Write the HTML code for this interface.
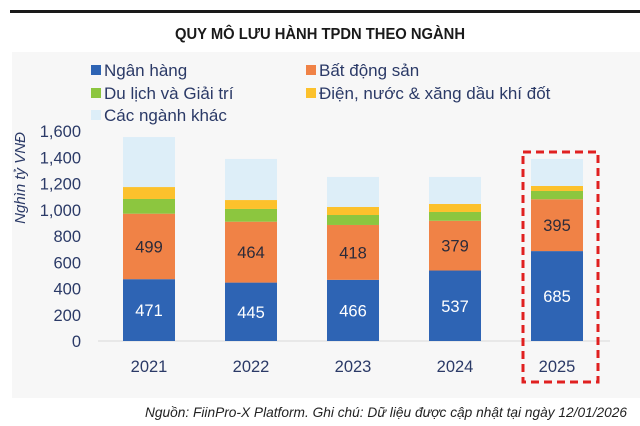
<!DOCTYPE html>
<html><head><meta charset="utf-8"><style>
body{margin:0;width:640px;height:426px;background:#fff;overflow:hidden;font-family:"Liberation Sans",sans-serif}
svg{display:block}
</style></head><body>
<svg id="chart" width="640" height="426">
<rect x="10" y="10" width="630" height="3" fill="#1a1a1a"/>
<text x="320" y="39" text-anchor="middle" font-size="16" font-weight="bold" fill="#1a1a1a" textLength="290" lengthAdjust="spacingAndGlyphs">QUY MÔ LƯU HÀNH TPDN THEO NGÀNH</text>
<rect x="12" y="52" width="628" height="346" fill="#f7f7f7"/>
<g id="legend"></g>
<text transform="translate(25,178) rotate(-90)" text-anchor="middle" font-size="15" font-style="italic" fill="#2b3a67">Nghìn tỷ VNĐ</text>
<g id="axis"></g><g id="bars"></g>
<rect x="523" y="152" width="75" height="230" fill="none" stroke="#e02020" stroke-width="3" stroke-dasharray="8,5"/>
<text x="627" y="417" text-anchor="end" font-size="14" font-style="italic" fill="#222" textLength="482" lengthAdjust="spacingAndGlyphs">Nguồn: FiinPro-X Platform. Ghi chú: Dữ liệu được cập nhật tại ngày 12/01/2026</text>
</svg>
<script>
const years=["2021","2022","2023","2024","2025"];
const bank=[471,445,466,537,685];
const realEstate=[499,464,418,379,395];
const tourism=[112,97,76,67,63];
const energy=[91,68,61,61,38];
const other=[381,313,229,206,206];
const yTicks=[0,200,400,600,800,1000,1200,1400,1600];
const seriesNames=["Ngân hàng","Bất động sản","Du lịch và Giải trí","Điện, nước & xăng dầu khí đốt","Các ngành khác"];
const colors=["#2e64b4","#f08246","#8cc63f","#fcc12c","#ddeef8"];
const NS="http://www.w3.org/2000/svg";
const y0=341,yTop=131,yMax=1600;
const y=v=>y0-v/yMax*(y0-yTop);
const xC=i=>149+i*102;
const bw=52;
function mk(t,a,p){const e=document.createElementNS(NS,t);for(const k in a)e.setAttribute(k,a[k]);p.appendChild(e);return e;}
const ax=document.getElementById('axis');
mk('line',{x1:98,x2:610,y1:y0,y2:y0,stroke:'#d8d8d8','stroke-width':1},ax);
yTicks.forEach(t=>{const e=mk('text',{x:81,y:y(t)+6,'text-anchor':'end','font-size':16.5,fill:'#2b3a67'},ax);e.textContent=t.toLocaleString('en-US');

});
years.forEach((yr,i)=>{const e=mk('text',{x:xC(i),y:372,'text-anchor':'middle','font-size':16.5,fill:'#2b3a67'},ax);e.textContent=yr;

});
const series=[bank,realEstate,tourism,energy,other];
const bg=document.getElementById('bars');
years.forEach((yr,i)=>{let c=0;series.forEach((s,k)=>{const v=s[i];const r=mk('rect',{x:xC(i)-bw/2,y:y(c+v),width:bw,height:y(c)-y(c+v),fill:colors[k]},bg);


if(k<2){const t=mk('text',{x:xC(i),y:(y(c)+y(c+v))/2+6,'text-anchor':'middle','font-size':16.5,fill:k==0?'#fff':'#2b2b3a'},bg);t.textContent=v;

}
c+=v;});});
const lg=document.getElementById('legend');
const pos=[[91,71],[306,71],[91,94],[306,94],[91,116]];
seriesNames.forEach((n,k)=>{const g=mk('g',{},lg);


mk('rect',{x:pos[k][0],y:pos[k][1]-6,width:10,height:10,fill:colors[k]},g);
const t=mk('text',{x:pos[k][0]+13,y:pos[k][1]+5,'font-size':17,fill:'#2b3a67'},g);t.textContent=n;});
</script>
</body></html>
